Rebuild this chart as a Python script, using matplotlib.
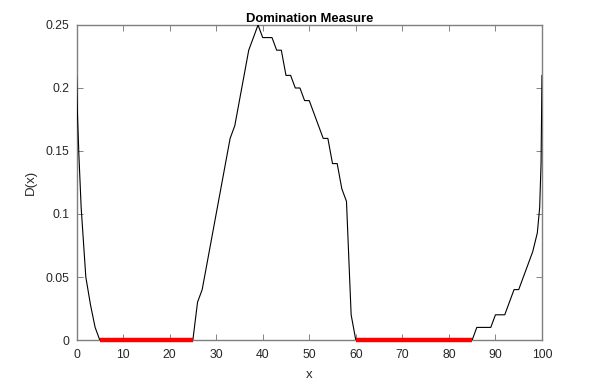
import numpy as np
import matplotlib.pyplot as plt
from matplotlib.ticker import FixedLocator

plt.rcParams['font.family'] = ['Liberation Sans', 'DejaVu Sans']

# domination measure D(x)
x_vals = [0, 0.2, 0.5, 1, 2, 3, 4, 5,
          25, 26, 27, 33, 34, 37, 38, 39, 40, 41, 42, 43, 44, 45, 46, 47, 48,
          49, 50, 53, 54, 55, 56, 57, 58, 59, 60,
          85, 86, 89, 90, 92, 94, 95, 98, 99, 99.5, 99.8, 100]
d_vals = [0.21, 0.18, 0.148, 0.105, 0.05, 0.028, 0.01, 0,
          0, 0.03, 0.04, 0.16, 0.17, 0.23, 0.24, 0.25, 0.24, 0.24, 0.24, 0.23,
          0.23, 0.21, 0.21, 0.20, 0.20, 0.19, 0.19, 0.16, 0.16, 0.14, 0.14,
          0.12, 0.11, 0.02, 0,
          0, 0.01, 0.01, 0.02, 0.02, 0.04, 0.04, 0.07, 0.085, 0.105, 0.14, 0.21]

# intervals where D(x) = 0
zero_intervals = [(5, 25), (60, 85)]

x_ticks = list(range(0, 101, 10))
y_ticks = [0, 0.05, 0.1, 0.15, 0.2, 0.25]
y_tick_labels = ["0", "0.05", "0.1", "0.15", "0.2", "0.25"]

fig = plt.figure(figsize=(6.01, 3.88), dpi=100, facecolor="white")
ax = fig.add_axes([0.1273, 0.1237, 0.7745, 0.8119])

ax.plot(x_vals, d_vals, color="black", linewidth=0.8, zorder=3)
for a, b in zero_intervals:
    ax.plot([a, b], [0, 0], color="red", linewidth=3.2, solid_capstyle="butt",
            zorder=5, clip_on=False)

ax.set_xlim(0, 100)
ax.set_ylim(0, 0.25)
ax.xaxis.set_major_locator(FixedLocator(x_ticks))
ax.set_yticks(y_ticks)
ax.set_yticklabels(y_tick_labels)

ax.tick_params(direction="in", length=4.5, width=0.6, color="#707070",
               labelsize=8.8, labelcolor="#262626", top=True, right=True)
ax.tick_params(axis="x", pad=6.5)
ax.tick_params(axis="y", pad=5)
for spine in ax.spines.values():
    spine.set_edgecolor("#7f7f7f")
    spine.set_linewidth(1.0)

ax.set_title("Domination Measure", fontsize=9.4, fontweight="bold", color="black", pad=2.5)
ax.set_xlabel("x", fontsize=9.5, color="#262626", labelpad=6)
ax.set_ylabel("D(x)", fontsize=9.5, color="#262626", labelpad=6)

fig.savefig("out.png", dpi=100, facecolor="white")
